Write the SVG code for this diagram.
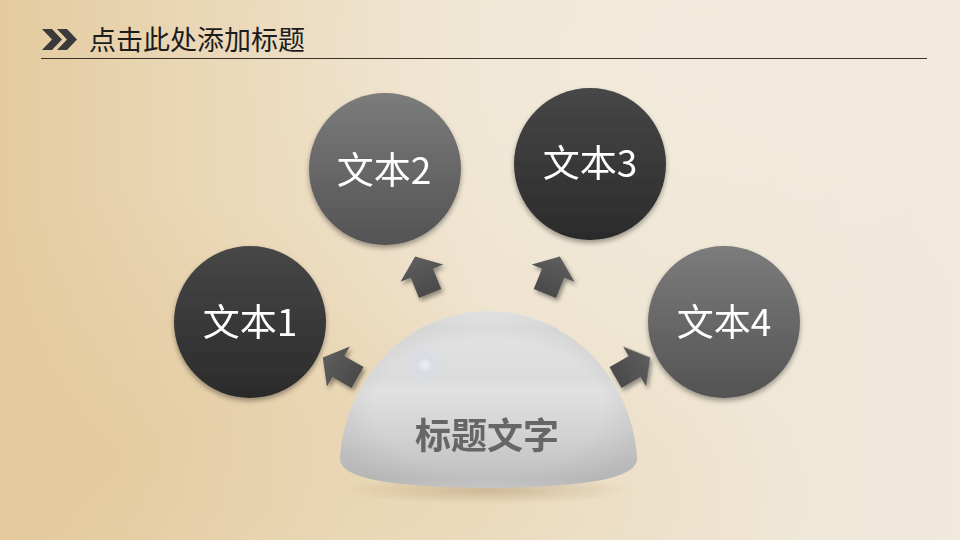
<svg xmlns="http://www.w3.org/2000/svg" width="960" height="540" viewBox="0 0 960 540">
<defs>
<linearGradient id="bg" x1="0" y1="0" x2="1" y2="0">
<stop offset="0" stop-color="#e4cb9f"/>
<stop offset="0.2" stop-color="#ead7b6"/>
<stop offset="0.5" stop-color="#efe4d0"/>
<stop offset="1" stop-color="#f0e9dc"/>
</linearGradient>
<radialGradient id="warm" cx="0.1" cy="0.85" r="0.5">
<stop offset="0" stop-color="#e3c899" stop-opacity="0.7"/>
<stop offset="1" stop-color="#e3c899" stop-opacity="0"/>
</radialGradient>
<radialGradient id="warm2" cx="0.5" cy="0.92" r="0.35">
<stop offset="0" stop-color="#e8d4b0" stop-opacity="0.6"/>
<stop offset="1" stop-color="#e8d4b0" stop-opacity="0"/>
</radialGradient>
<radialGradient id="light" cx="0.75" cy="0.1" r="0.5">
<stop offset="0" stop-color="#f3ecdf" stop-opacity="0.8"/>
<stop offset="1" stop-color="#f3ecdf" stop-opacity="0"/>
</radialGradient>
<linearGradient id="dark" x1="0" y1="0" x2="0" y2="1">
<stop offset="0" stop-color="#474747"/>
<stop offset="1" stop-color="#2b2b2b"/>
</linearGradient>
<linearGradient id="grey" x1="0" y1="0" x2="0" y2="1">
<stop offset="0" stop-color="#7c7c7c"/>
<stop offset="1" stop-color="#535353"/>
</linearGradient>
<linearGradient id="arrowFill" x1="0" y1="0" x2="0" y2="1">
<stop offset="0" stop-color="#5e5e5e"/>
<stop offset="1" stop-color="#4a4a4a"/>
</linearGradient>
<linearGradient id="dome" x1="0" y1="0" x2="0" y2="1">
<stop offset="0" stop-color="#f6f6f6"/>
<stop offset="0.1" stop-color="#e2e2e3"/>
<stop offset="0.38" stop-color="#dcdcdd"/>
<stop offset="0.45" stop-color="#e1e1e2"/>
<stop offset="0.7" stop-color="#d2d2d3"/>
<stop offset="0.95" stop-color="#bfbfc0"/>
<stop offset="1" stop-color="#c9c9ca"/>
</linearGradient>
<radialGradient id="domeSide" cx="0.5" cy="0.55" r="0.55">
<stop offset="0.7" stop-color="#9a9a9a" stop-opacity="0"/>
<stop offset="1" stop-color="#9a9a9a" stop-opacity="0.25"/>
</radialGradient>
<radialGradient id="spot" cx="0.5" cy="0.5" r="0.5">
<stop offset="0" stop-color="#f2f4f8"/>
<stop offset="0.35" stop-color="#d7dce5"/>
<stop offset="1" stop-color="#d7dce5" stop-opacity="0"/>
</radialGradient>
<radialGradient id="domeShadow" cx="0.5" cy="0.5" r="0.5">
<stop offset="0" stop-color="#8a6e48" stop-opacity="0.3"/>
<stop offset="1" stop-color="#8a6e48" stop-opacity="0"/>
</radialGradient>
<filter id="cShadow" x="-20%" y="-20%" width="140%" height="150%">
<feDropShadow dx="0" dy="3" stdDeviation="2.5" flood-color="#000" flood-opacity="0.35"/>
</filter>
<filter id="aShadow" x="-50%" y="-50%" width="200%" height="200%">
<feGaussianBlur in="SourceGraphic" stdDeviation="0.7" result="b"/>
<feDropShadow in="b" dx="2" dy="3" stdDeviation="2" flood-color="#000" flood-opacity="0.4"/>
</filter>
<path id="arrow" d="M0,-21 L23,-3 L12,-3 L12,19 L-12,19 L-12,-3 L-23,-3 Z"/>
<style>
.title{font-family:"Noto Sans CJK SC","Noto Sans",sans-serif;font-size:27px;fill:#1c1c1c}
.ctext{font-family:"Noto Sans CJK SC","Noto Sans",sans-serif;font-size:37px;fill:#ffffff;text-anchor:middle}
.dtext{font-family:"Noto Sans CJK SC","Noto Sans",sans-serif;font-size:36px;font-weight:bold;fill:#666666;text-anchor:middle}
.chev{fill:#3a3a3a}
</style>
</defs>

<rect x="0" y="0" width="960" height="540" fill="url(#bg)"/>
<rect x="0" y="0" width="960" height="540" fill="url(#warm)"/>
<rect x="0" y="0" width="960" height="540" fill="url(#warm2)"/>
<rect x="0" y="0" width="960" height="540" fill="url(#light)"/>

<g id="header">
<path class="chev" d="M42,29 L52,29 L62,39.5 L52,50 L42,50 L52,39.5 Z"/>
<path class="chev" d="M57,29 L67,29 L77,39.5 L67,50 L57,50 L67,39.5 Z"/>
<text class="title" x="89" y="50">点击此处添加标题</text>
<line x1="41" y1="58.5" x2="927" y2="58.5" stroke="#3b332a" stroke-width="1.2"/>
</g>

<g id="connectors" fill="url(#arrowFill)" filter="url(#aShadow)">
<use href="#arrow" transform="translate(341,368) rotate(-60)"/>
<use href="#arrow" transform="translate(423,276) rotate(-22)"/>
<use href="#arrow" transform="translate(552,276) rotate(22)"/>
<use href="#arrow" transform="translate(632,368) rotate(60)"/>
</g>

<g id="node-1">
<circle cx="250" cy="322" r="76" fill="url(#dark)" filter="url(#cShadow)"/>
<text class="ctext" x="250" y="336">文本1</text>
</g>
<g id="node-2">
<circle cx="385" cy="169" r="76" fill="url(#grey)" filter="url(#cShadow)"/>
<text class="ctext" x="384" y="184">文本2</text>
</g>
<g id="node-3">
<circle cx="590" cy="164" r="76" fill="url(#dark)" filter="url(#cShadow)"/>
<text class="ctext" x="590" y="177">文本3</text>
</g>
<g id="node-4">
<circle cx="724" cy="322" r="76" fill="url(#grey)" filter="url(#cShadow)"/>
<text class="ctext" x="724" y="336">文本4</text>
</g>

<g id="center">
<ellipse cx="488" cy="490" rx="145" ry="14" fill="url(#domeShadow)"/>
<path d="M340,456 A149,158 0 0 1 637,456 C640,476 600,487 488,488 C376,487 337,476 340,456 Z" fill="url(#dome)"/>
<path d="M340,456 A149,158 0 0 1 637,456 C640,476 600,487 488,488 C376,487 337,476 340,456 Z" fill="url(#domeSide)"/>
<circle cx="425" cy="365" r="22" fill="url(#spot)" opacity="0.8"/>
<text class="dtext" x="487" y="449">标题文字</text>
</g>
</svg>
